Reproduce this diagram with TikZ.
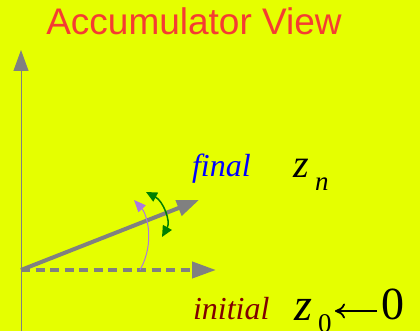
\documentclass[tikz,border=0pt]{standalone}
\usepackage{fontspec}
\setmainfont{Liberation Serif}
\newfontfamily\titlefont{Liberation Sans}
\usetikzlibrary{arrows.meta}
\definecolor{bgyellow}{RGB}{229,255,0}
\definecolor{titlered}{RGB}{245,60,50}
\definecolor{axisgray}{RGB}{128,128,128}
\definecolor{darkred}{RGB}{128,0,0}
\definecolor{lavender}{RGB}{170,120,225}
\definecolor{dgreen}{RGB}{0,128,0}
\tikzset{
  txt/.style={inner sep=0pt, outer sep=0pt, anchor=base west},
  grayarrow/.style={draw=axisgray, line width=4pt, -{Triangle[length=24pt,width=16pt]}},
}
\begin{document}
\begin{tikzpicture}[x=1pt,y=1pt]
\fill[bgyellow] (0,0) rectangle (420,331);
\useasboundingbox (0,0) rectangle (420,331);
% title
\node[txt, anchor=base, text=titlered, font=\titlefont\fontsize{37}{40}\selectfont] (title) at (194,296) {Accumulator View};
% coordinates
\coordinate (O) at (21,61);
\coordinate (Ytop) at (21,281);
\coordinate (Ybot) at (21,0);
\coordinate (Xend) at (216,61);
\coordinate (Fend) at (199,131);
% axis
\draw[axisgray, line width=1pt] (Ybot) -- (O);
\draw[axisgray, line width=1pt, -{Triangle[length=21pt,width=15pt]}] (O) -- (Ytop);
% initial dashed
\draw[grayarrow, dash pattern=on 9pt off 5.5pt] (O) -- (Xend);
% final solid
\draw[grayarrow, -{Triangle[length=22pt,width=16pt]}] (O) -- (Fend);
% purple curved arrow
\coordinate (P0) at (140,61);
\coordinate (P1) at (134,131);
\draw[lavender, line width=1pt, -{Triangle[length=12pt,width=10pt]}] (P0) .. controls (156,90) and (146,118) .. (P1);
% green double arrow
\coordinate (G0) at (146,139);
\coordinate (G1) at (162,94);
\draw[dgreen, line width=1.5pt, {Triangle[length=11pt,width=10pt]}-{Triangle[length=11pt,width=10pt]}] (G0) .. controls (163,130) and (171,110) .. (G1);
% labels
\node[txt, text=blue, font=\itshape\fontsize{32}{34}\selectfont] (final) at (192,154) {final};
\node[txt, font=\itshape\fontsize{40}{42}\selectfont] (zn) at (293,153) {z};
\node[txt, font=\itshape\fontsize{27}{29}\selectfont] (nsub) at (315,140) {n};
\node[txt, text=darkred, font=\itshape\fontsize{32}{34}\selectfont] (initial) at (193,11) {initial};
\node[txt, font=\itshape\fontsize{46}{48}\selectfont] (z0) at (294,10) {z};
\node[txt, font=\fontsize{27}{29}\selectfont] (zsub) at (318,-2) {0};
\coordinate (arrowstart) at (377,20);
\coordinate (arrowend) at (335,20);
\draw[line width=1.8pt, -{To[length=10pt,width=15pt]}] (arrowstart) -- (arrowend);
\node[txt, font=\fontsize{46}{48}\selectfont] (zero) at (381,11) {0};
\end{tikzpicture}
\end{document}
